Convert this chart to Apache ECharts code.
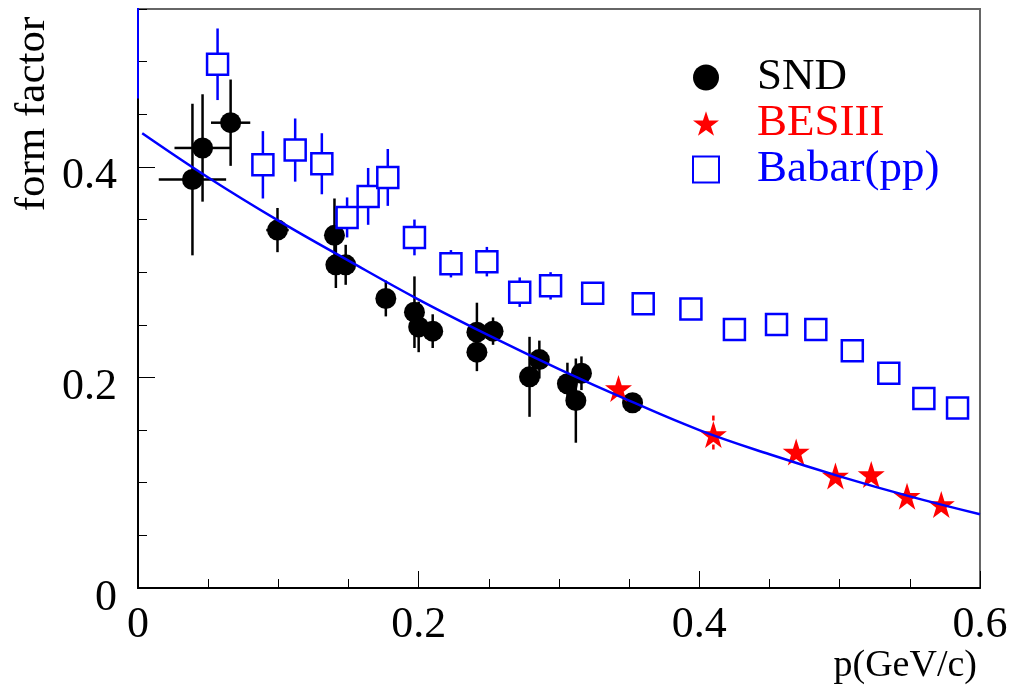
<!DOCTYPE html>
<html>
<head>
<meta charset="utf-8">
<script src="https://cdn.jsdelivr.net/npm/echarts@6/dist/echarts.min.js"></script>
<style>
html,body{margin:0;padding:0;background:#fff;}
#chart{width:1019px;height:693px;}
</style>
</head>
<body>
<div id="chart"></div>
<script>
// ---- data ----
const sndX    = [0.0388,0.046,0.066,0.0994,0.140,0.141,0.148,0.1766,0.197,0.200,0.210,0.2415,0.2415,0.253,0.279,0.286,0.306,0.316,0.312,0.3524];
const sndY    = [0.388,0.418,0.442,0.340,0.335,0.307,0.307,0.275,0.262,0.248,0.244,0.243,0.224,0.244,0.2006,0.217,0.194,0.204,0.178,0.176];
const sndXErr = [0.024,0.020,0.014,0.008,0,0,0,0,0,0,0,0,0,0,0,0,0,0,0,0];
const sndYErr = [0.072,0.051,0.041,0.021,0.035,0.022,0.019,0.017,0.034,0.024,0.016,0.028,0.018,0.013,0.038,0.018,0.02,0.016,0.04,0.008];

const besX    = [0.3424,0.410,0.469,0.497,0.5225,0.548,0.5724];
const besY    = [0.1895,0.1458,0.1293,0.1065,0.1078,0.0872,0.0793];
const besYErr = [0,0.018,0,0,0,0,0];

const babarX    = [0.0567,0.089,0.112,0.131,0.149,0.164,0.178,0.197,0.223,0.2486,0.272,0.294,0.324,0.360,0.394,0.425,0.455,0.483,0.509,0.535,0.560,0.584];
const babarY    = [0.4975,0.402,0.416,0.403,0.352,0.372,0.390,0.333,0.308,0.310,0.281,0.287,0.280,0.270,0.265,0.2456,0.2504,0.2456,0.2253,0.204,0.180,0.171];
const babarYErr = [0.034,0.032,0.030,0.029,0.019,0.027,0.027,0.017,0.013,0.014,0.014,0.013,0,0,0,0,0,0,0,0,0,0];

const fitX = [0.003,0.05,0.1,0.15,0.2,0.25,0.3,0.35,0.4,0.45,0.5,0.55,0.6];
const fitY = [0.432,0.390,0.349,0.311,0.274,0.240,0.208,0.178,0.150,0.127,0.106,0.087,0.070];

const edgeX = [0,0];
const edgeY = [0.551,0.465];

const xTickLabels = {0:'0',0.2:'0.2',0.4:'0.4',0.6:'0.6'};
const yTickLabels = {0:'0',0.2:'0.2',0.4:'0.4'};

const FONT = 'Liberation Serif';
const STAR = 'path://M50,0 L61.2,34.5 L97.6,34.5 L68.2,55.9 L79.4,90.5 L50,69.1 L20.6,90.5 L31.8,55.9 L2.4,34.5 L38.8,34.5 Z';

const zip = (...arrs) => arrs[0].map((_, i) => arrs.map(a => a[i]));

function errRender(color, gapPx, dashed) {
  return function (params, api) {
    const x = api.value(0), y = api.value(1), ex = api.value(2), ey = api.value(3);
    const c = api.coord([x, y]);
    const children = [];
    const style = { stroke: color, lineWidth: 2.5, lineDash: dashed ? [5, 5] : null };
    if (ey > 0) {
      const top = api.coord([x, y + ey]);
      const bot = api.coord([x, y - ey]);
      if (top[1] < c[1] - gapPx)
        children.push({ type: 'line', shape: { x1: c[0], y1: top[1], x2: c[0], y2: c[1] - gapPx }, style });
      if (bot[1] > c[1] + gapPx)
        children.push({ type: 'line', shape: { x1: c[0], y1: c[1] + gapPx, x2: c[0], y2: bot[1] }, style });
    }
    if (ex > 0) {
      const l = api.coord([x - ex, y]);
      const r = api.coord([x + ex, y]);
      children.push({ type: 'line', shape: { x1: l[0], y1: c[1], x2: c[0] - gapPx, y2: c[1] }, style });
      children.push({ type: 'line', shape: { x1: c[0] + gapPx, y1: c[1], x2: r[0], y2: c[1] }, style });
    }
    return { type: 'group', children };
  };
}

const chart = echarts.init(document.getElementById('chart'), null, { renderer: 'canvas' });

const option = {
  backgroundColor: '#fff',
  animation: false,
  textStyle: { fontFamily: FONT },
  grid: { left: 138, right: 39, top: 9, bottom: 105, show: true, borderColor: '#666', borderWidth: 2, backgroundColor: 'transparent' },
  xAxis: {
    type: 'value', min: 0, max: 0.6, interval: 0.2,
    axisLine: { show: true, lineStyle: { color: '#000', width: 2 } },
    axisTick: { show: true, inside: true, length: 17, lineStyle: { color: '#000', width: 1 } },
    minorTick: { show: true, splitNumber: 4, length: 9, lineStyle: { color: '#000', width: 1 } },
    splitLine: { show: false }, minorSplitLine: { show: false },
    axisLabel: { fontFamily: FONT, fontSize: 44, color: '#000', margin: 15,
      formatter: v => xTickLabels[Math.round(v * 10) / 10] ?? '' }
  },
  yAxis: [{
    type: 'value', min: 0, max: 0.55, interval: 0.05,
    axisLine: { show: true, lineStyle: { color: '#000', width: 2 } },
    axisTick: { show: true, inside: true, length: 9, lineStyle: { color: '#000', width: 1 } },
    splitLine: { show: false },
    axisLabel: { show: false }
  }, {
    type: 'value', min: 0, max: 0.55, interval: 0.2, position: 'left',
    axisLine: { show: false },
    axisTick: { show: true, inside: true, length: 17, lineStyle: { color: '#000', width: 1 } },
    splitLine: { show: false },
    axisLabel: { fontFamily: FONT, fontSize: 44, color: '#000', margin: 21, showMaxLabel: false,
      verticalAlign: 'top', lineHeight: 20,
      formatter: v => yTickLabels[Math.round(v * 10) / 10] ?? '' }
  }],
  legend: {
    orient: 'vertical', left: 687, top: 50, itemGap: 1,
    itemWidth: 26, itemHeight: 26,
    textStyle: { fontFamily: FONT, fontSize: 45, lineHeight: 42, padding: [0, 0, 0, 33] },
    data: [
      { name: 'SND', textStyle: { color: '#000' } },
      { name: 'BESIII', textStyle: { color: '#ff0000' } },
      { name: 'Babar(pp)', textStyle: { color: '#0000ff' } }
    ]
  },
  graphic: [{
    type: 'text', x: 33, y: 114, rotation: Math.PI / 2,
    style: { text: 'form factor', font: '43px "Liberation Serif"', fill: '#000', align: 'center', verticalAlign: 'middle' }
  }, {
    type: 'text', x: 977, y: 666,
    style: { text: 'p(GeV/c)', font: '38px "Liberation Serif"', fill: '#000', align: 'right', verticalAlign: 'middle' }
  }],
  series: [
    { name: 'SND err', type: 'custom', renderItem: errRender('#000', 0, false), data: zip(sndX, sndY, sndXErr, sndYErr), z: 2, silent: true },
    { name: 'SND', type: 'scatter', data: zip(sndX, sndY), symbol: 'circle', symbolSize: 21, itemStyle: { color: '#000', opacity: 1 }, z: 3 },
    { name: 'BESIII err', type: 'custom', renderItem: errRender('#ff0000', 0, true), data: zip(besX, besY, besX.map(() => 0), besYErr), z: 2, silent: true },
    { name: 'BESIII', type: 'scatter', data: zip(besX, besY), symbol: STAR, symbolSize: 27, itemStyle: { color: '#ff0000', opacity: 1 }, z: 4 },
    { name: 'Babar err', type: 'custom', renderItem: errRender('#0000ff', 11, false), data: zip(babarX, babarY, babarX.map(() => 0), babarYErr), z: 2, silent: true },
    { name: 'Babar(pp)', type: 'scatter', data: zip(babarX, babarY), symbol: 'rect', symbolSize: 21,
      itemStyle: { color: '#fff', borderColor: '#0000ff', borderWidth: 2.5, opacity: 1 }, z: 4 },
    { name: 'fit', type: 'line', data: zip(fitX, fitY), smooth: 0.4, showSymbol: false, symbol: 'none',
      lineStyle: { color: '#0000ff', width: 2.5 }, z: 6 },
    { name: 'edge', type: 'line', data: zip(edgeX, edgeY), showSymbol: false, symbol: 'none',
      lineStyle: { color: '#0000ff', width: 2 }, z: 7, clip: false }
  ]
};
chart.setOption(option);
</script>
</body>
</html>
